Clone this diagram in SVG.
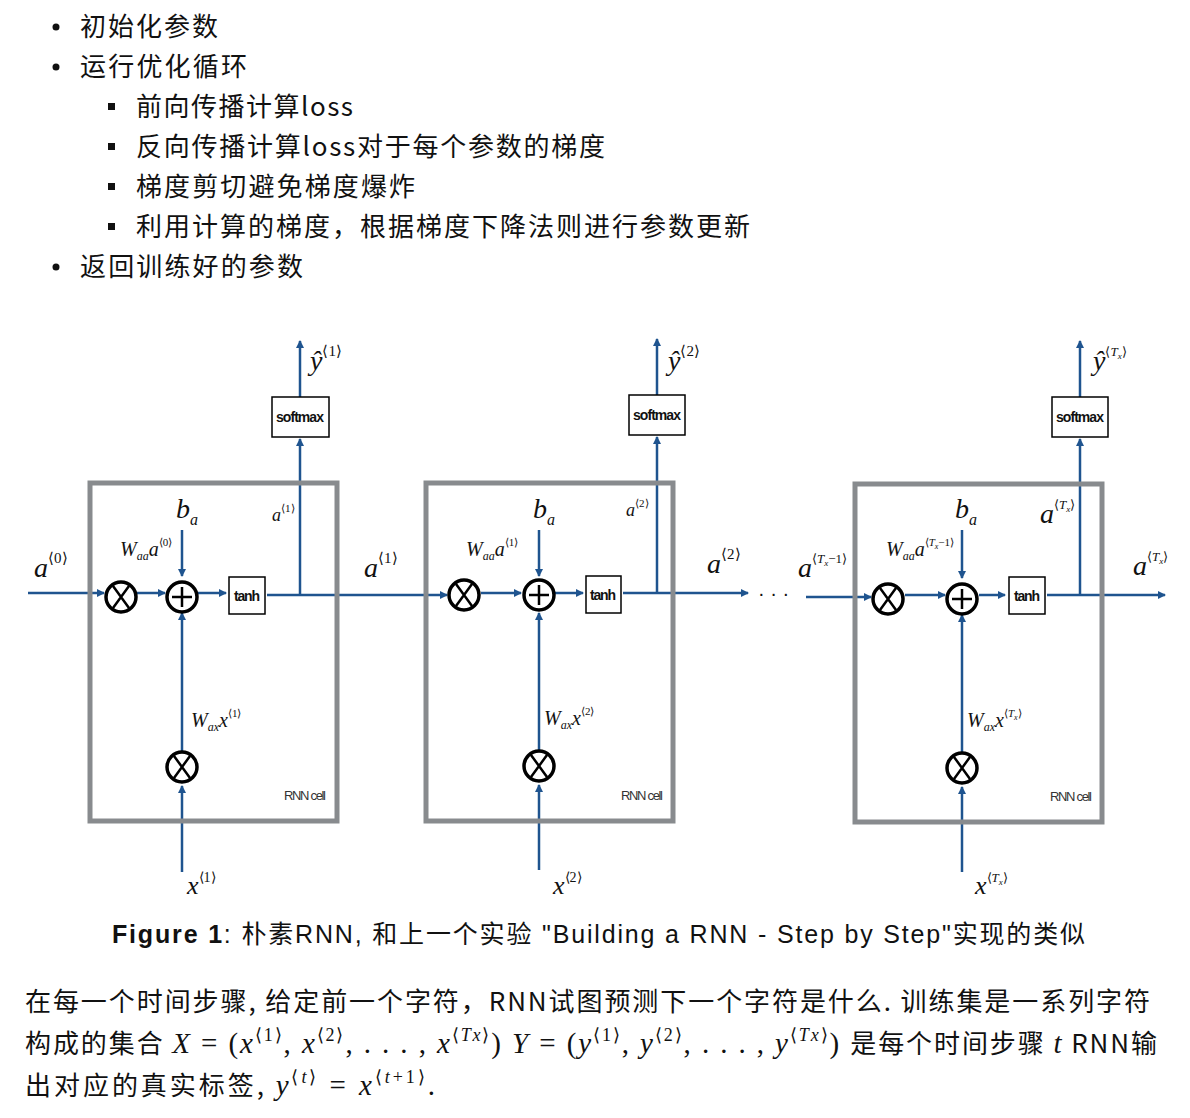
<svg xmlns="http://www.w3.org/2000/svg" width="1190" height="1118" viewBox="0 0 1190 1118">
<style>
.t{font-family:"Noto Sans CJK SC","Liberation Sans",sans-serif;font-size:26px;fill:#111}
.m{font-family:"Liberation Serif",serif;font-style:italic;fill:#111}
.sm{font-family:"Liberation Serif",serif;fill:#111}
.cell{fill:none;stroke:#888b8e;stroke-width:5}
.ln{stroke:#1f548f;stroke-width:2.5;fill:none}
.op{fill:#fff;stroke:#000;stroke-width:3.5}
.bx{fill:#fff;stroke:#000;stroke-width:1.5}
.lb{font-family:"Liberation Sans",sans-serif;font-weight:bold;font-size:14px;fill:#111}
.rc{font-family:"Liberation Sans",sans-serif;font-size:13px;fill:#333}
</style>
<defs>
<marker id="ah" markerWidth="8" markerHeight="8" refX="7" refY="4" orient="auto" markerUnits="userSpaceOnUse" viewBox="0 0 8 8"><path d="M0,0 L8,4 L0,8z" fill="#1f548f"/></marker>
<g id="mul"><circle r="15" class="op"/><path d="M-8,-11 L8,11 M8,-11 L-8,11" stroke="#000" stroke-width="2.5"/></g>
<g id="add"><circle r="15" class="op"/><path d="M-10,0 H10 M0,-10 V10" stroke="#000" stroke-width="2.5"/></g>
</defs>
<rect width="1190" height="1118" fill="#fff"/>
<g id="bullets">
<circle cx="56" cy="27" r="3.5" fill="#111"/><text class="t" x="80" y="36" textLength="138">初始化参数</text>
<circle cx="56" cy="67" r="3.5" fill="#111"/><text class="t" x="80" y="76" textLength="167">运行优化循环</text>
<rect x="108" y="103" width="7" height="7" fill="#111"/><text class="t" x="136" y="116" textLength="217">前向传播计算loss</text>
<rect x="108" y="143" width="7" height="7" fill="#111"/><text class="t" x="136" y="156" textLength="469">反向传播计算loss对于每个参数的梯度</text>
<rect x="108" y="183" width="7" height="7" fill="#111"/><text class="t" x="136" y="196" textLength="279">梯度剪切避免梯度爆炸</text>
<rect x="108" y="223" width="7" height="7" fill="#111"/><text class="t" x="136" y="236" textLength="614">利用计算的梯度，根据梯度下降法则进行参数更新</text>
<circle cx="56" cy="267" r="3.5" fill="#111"/><text class="t" x="80" y="276" textLength="223">返回训练好的参数</text>
</g>
<g id="connectors">
<line class="ln" x1="28" y1="593" x2="104" y2="593" marker-end="url(#ah)"/>
<line class="ln" x1="137" y1="593" x2="165" y2="593" marker-end="url(#ah)"/>
<line class="ln" x1="198" y1="593" x2="226" y2="593" marker-end="url(#ah)"/>
<line class="ln" x1="182" y1="530" x2="182" y2="576" marker-end="url(#ah)"/>
<line class="ln" x1="182" y1="752" x2="182" y2="613" marker-end="url(#ah)"/>
<line class="ln" x1="182" y1="872" x2="182" y2="786" marker-end="url(#ah)"/>
<line class="ln" x1="267" y1="595" x2="447" y2="595" marker-end="url(#ah)"/>
<line class="ln" x1="300" y1="595" x2="300" y2="439" marker-end="url(#ah)"/>
<line class="ln" x1="300" y1="397" x2="300" y2="341" marker-end="url(#ah)"/>

<line class="ln" x1="481" y1="593" x2="521" y2="593" marker-end="url(#ah)"/>
<line class="ln" x1="555" y1="593" x2="583" y2="593" marker-end="url(#ah)"/>
<line class="ln" x1="539" y1="530" x2="539" y2="576" marker-end="url(#ah)"/>
<line class="ln" x1="539" y1="750" x2="539" y2="613" marker-end="url(#ah)"/>
<line class="ln" x1="539" y1="870" x2="539" y2="785" marker-end="url(#ah)"/>
<line class="ln" x1="623" y1="593" x2="748" y2="593" marker-end="url(#ah)"/>
<line class="ln" x1="657" y1="593" x2="657" y2="437" marker-end="url(#ah)"/>
<line class="ln" x1="657" y1="395" x2="657" y2="339" marker-end="url(#ah)"/>

<line class="ln" x1="806" y1="597" x2="871" y2="597" marker-end="url(#ah)"/>
<line class="ln" x1="905" y1="595" x2="945" y2="595" marker-end="url(#ah)"/>
<line class="ln" x1="979" y1="595" x2="1005" y2="595" marker-end="url(#ah)"/>
<line class="ln" x1="962" y1="530" x2="962" y2="578" marker-end="url(#ah)"/>
<line class="ln" x1="962" y1="752" x2="962" y2="615" marker-end="url(#ah)"/>
<line class="ln" x1="962" y1="872" x2="962" y2="787" marker-end="url(#ah)"/>
<line class="ln" x1="1047" y1="595" x2="1165" y2="595" marker-end="url(#ah)"/>
<line class="ln" x1="1080" y1="595" x2="1080" y2="439" marker-end="url(#ah)"/>
<line class="ln" x1="1080" y1="397" x2="1080" y2="341" marker-end="url(#ah)"/>
</g>
<g id="cell1">
<rect class="cell" x="90" y="483" width="247" height="338"/>
<use href="#mul" x="121" y="597"/><use href="#add" x="182" y="597"/><use href="#mul" x="182" y="767"/>
<rect class="bx" x="229" y="577" width="36" height="37"/><text class="lb" x="247" y="601" text-anchor="middle" textLength="26">tanh</text>
<rect class="bx" x="272" y="397" width="57" height="40"/><text class="lb" x="300" y="422" text-anchor="middle" textLength="48">softmax</text>
<text class="rc" x="326" y="800" text-anchor="end" textLength="42">RNN cell</text>
</g>
<g id="cell2">
<rect class="cell" x="426" y="483" width="247" height="338"/>
<use href="#mul" x="464" y="595"/><use href="#add" x="539" y="595"/><use href="#mul" x="539" y="766"/>
<rect class="bx" x="586" y="576" width="35" height="37"/><text class="lb" x="603" y="600" text-anchor="middle" textLength="26">tanh</text>
<rect class="bx" x="629" y="395" width="56" height="40"/><text class="lb" x="657" y="420" text-anchor="middle" textLength="48">softmax</text>
<text class="rc" x="663" y="800" text-anchor="end" textLength="42">RNN cell</text>
</g>
<g id="cell3">
<rect class="cell" x="855" y="484" width="247" height="338"/>
<use href="#mul" x="888" y="599"/><use href="#add" x="962" y="599"/><use href="#mul" x="962" y="768"/>
<rect class="bx" x="1009" y="577" width="36" height="37"/><text class="lb" x="1027" y="601" text-anchor="middle" textLength="26">tanh</text>
<rect class="bx" x="1052" y="397" width="56" height="40"/><text class="lb" x="1080" y="422" text-anchor="middle" textLength="48">softmax</text>
<text class="rc" x="1092" y="801" text-anchor="end" textLength="42">RNN cell</text>
</g>
<g id="labels">
<text class="m" x="34" y="577" font-size="28">a<tspan font-size="15" dy="-14" font-style="normal">⟨0⟩</tspan></text>
<text class="m" x="120" y="556" font-size="20">W<tspan font-size="12" dy="4">aa</tspan><tspan dy="-4">a</tspan><tspan font-size="11" dy="-10" font-style="normal">⟨0⟩</tspan></text>
<text class="m" x="176" y="518" font-size="28">b<tspan font-size="16" dy="7">a</tspan></text>
<text class="m" x="272" y="521" font-size="18">a<tspan font-size="11" dy="-9" font-style="normal">⟨1⟩</tspan></text>
<text class="m" x="364" y="577" font-size="28">a<tspan font-size="15" dy="-14" font-style="normal">⟨1⟩</tspan></text>
<text class="m" x="191" y="727" font-size="20">W<tspan font-size="12" dy="4">ax</tspan><tspan dy="-4">x</tspan><tspan font-size="11" dy="-10" font-style="normal">⟨1⟩</tspan></text>
<text class="m" x="187" y="894" font-size="26">x<tspan font-size="14" dy="-12" font-style="normal">⟨1⟩</tspan></text>
<text class="m" x="310" y="370" font-size="28">ŷ<tspan font-size="15" dy="-14" font-style="normal">⟨1⟩</tspan></text>

<text class="m" x="466" y="556" font-size="20">W<tspan font-size="12" dy="4">aa</tspan><tspan dy="-4">a</tspan><tspan font-size="11" dy="-10" font-style="normal">⟨1⟩</tspan></text>
<text class="m" x="533" y="518" font-size="28">b<tspan font-size="16" dy="7">a</tspan></text>
<text class="m" x="626" y="516" font-size="18">a<tspan font-size="11" dy="-9" font-style="normal">⟨2⟩</tspan></text>
<text class="m" x="707" y="573" font-size="28">a<tspan font-size="15" dy="-14" font-style="normal">⟨2⟩</tspan></text>
<text x="758" y="600" font-family="Liberation Sans,sans-serif" font-size="20" fill="#111">· · ·</text>
<text class="m" x="544" y="725" font-size="20">W<tspan font-size="12" dy="4">ax</tspan><tspan dy="-4">x</tspan><tspan font-size="11" dy="-10" font-style="normal">⟨2⟩</tspan></text>
<text class="m" x="553" y="894" font-size="26">x<tspan font-size="14" dy="-12" font-style="normal">⟨2⟩</tspan></text>
<text class="m" x="668" y="370" font-size="28">ŷ<tspan font-size="15" dy="-14" font-style="normal">⟨2⟩</tspan></text>

<text class="m" x="798" y="577" font-size="28">a<tspan font-size="13" dy="-14" font-style="normal">⟨</tspan><tspan font-size="13">T</tspan><tspan font-size="9" dy="3">x</tspan><tspan font-size="13" dy="-3" font-style="normal">−1⟩</tspan></text>
<text class="m" x="886" y="556" font-size="20">W<tspan font-size="12" dy="4">aa</tspan><tspan dy="-4">a</tspan><tspan font-size="11" dy="-10" font-style="normal">⟨</tspan><tspan font-size="11">T</tspan><tspan font-size="8" dy="3">x</tspan><tspan font-size="11" dy="-3" font-style="normal">−1⟩</tspan></text>
<text class="m" x="955" y="518" font-size="28">b<tspan font-size="16" dy="7">a</tspan></text>
<text class="m" x="1040" y="523" font-size="28">a<tspan font-size="13" dy="-14" font-style="normal">⟨</tspan><tspan font-size="13">T</tspan><tspan font-size="9" dy="3">x</tspan><tspan font-size="13" dy="-3" font-style="normal">⟩</tspan></text>
<text class="m" x="1133" y="575" font-size="28">a<tspan font-size="13" dy="-14" font-style="normal">⟨</tspan><tspan font-size="13">T</tspan><tspan font-size="9" dy="3">x</tspan><tspan font-size="13" dy="-3" font-style="normal">⟩</tspan></text>
<text class="m" x="967" y="727" font-size="20">W<tspan font-size="12" dy="4">ax</tspan><tspan dy="-4">x</tspan><tspan font-size="11" dy="-10" font-style="normal">⟨</tspan><tspan font-size="11">T</tspan><tspan font-size="8" dy="3">x</tspan><tspan font-size="11" dy="-3" font-style="normal">⟩</tspan></text>
<text class="m" x="975" y="894" font-size="26">x<tspan font-size="13" dy="-12" font-style="normal">⟨</tspan><tspan font-size="13">T</tspan><tspan font-size="9" dy="3">x</tspan><tspan font-size="13" dy="-3" font-style="normal">⟩</tspan></text>
<text class="m" x="1093" y="370" font-size="28">ŷ<tspan font-size="13" dy="-14" font-style="normal">⟨</tspan><tspan font-size="13">T</tspan><tspan font-size="9" dy="3">x</tspan><tspan font-size="13" dy="-3" font-style="normal">⟩</tspan></text>
</g>
<g id="caption">
<text x="112" y="943" textLength="973" font-family="Liberation Sans,Noto Sans CJK SC,sans-serif" font-size="25" fill="#111"><tspan font-weight="bold">Figure 1</tspan>: 朴素RNN, 和上一个实验 "Building a RNN - Step by Step"实现的类似</text>
</g>
<g id="para">
<text class="t" x="25" y="1011" textLength="1125">在每一个时间步骤, 给定前一个字符，RNN试图预测下一个字符是什么. 训练集是一系列字符</text>
<text class="t" x="25" y="1053" textLength="1132">构成的集合 <tspan class="m" font-size="29">X</tspan><tspan class="sm" font-size="29"> = (</tspan><tspan class="m" font-size="29">x</tspan><tspan class="sm" font-size="18" dy="-12">⟨1⟩</tspan><tspan class="sm" font-size="29" dy="12">, </tspan><tspan class="m" font-size="29">x</tspan><tspan class="sm" font-size="18" dy="-12">⟨2⟩</tspan><tspan class="sm" font-size="29" dy="12">, . . . , </tspan><tspan class="m" font-size="29">x</tspan><tspan class="sm" font-size="18" dy="-12">⟨</tspan><tspan class="m" font-size="18">Tx</tspan><tspan class="sm" font-size="18">⟩</tspan><tspan class="sm" font-size="29" dy="12">) </tspan><tspan class="m" font-size="29">Y</tspan><tspan class="sm" font-size="29"> = (</tspan><tspan class="m" font-size="29">y</tspan><tspan class="sm" font-size="18" dy="-12">⟨1⟩</tspan><tspan class="sm" font-size="29" dy="12">, </tspan><tspan class="m" font-size="29">y</tspan><tspan class="sm" font-size="18" dy="-12">⟨2⟩</tspan><tspan class="sm" font-size="29" dy="12">, . . . , </tspan><tspan class="m" font-size="29">y</tspan><tspan class="sm" font-size="18" dy="-12">⟨</tspan><tspan class="m" font-size="18">Tx</tspan><tspan class="sm" font-size="18">⟩</tspan><tspan class="sm" font-size="29" dy="12">) </tspan>是每个时间步骤 <tspan class="m" font-size="29">t</tspan> RNN输</text>
<text class="t" x="25" y="1095" textLength="410">出对应的真实标签, <tspan class="m" font-size="29">y</tspan><tspan class="sm" font-size="18" dy="-12">⟨</tspan><tspan class="m" font-size="18">t</tspan><tspan class="sm" font-size="18">⟩</tspan><tspan class="sm" font-size="29" dy="12"> = </tspan><tspan class="m" font-size="29">x</tspan><tspan class="sm" font-size="18" dy="-12">⟨</tspan><tspan class="m" font-size="18">t</tspan><tspan class="sm" font-size="18">+1⟩</tspan><tspan class="sm" font-size="29" dy="12">.</tspan></text>
</g>
</svg>
